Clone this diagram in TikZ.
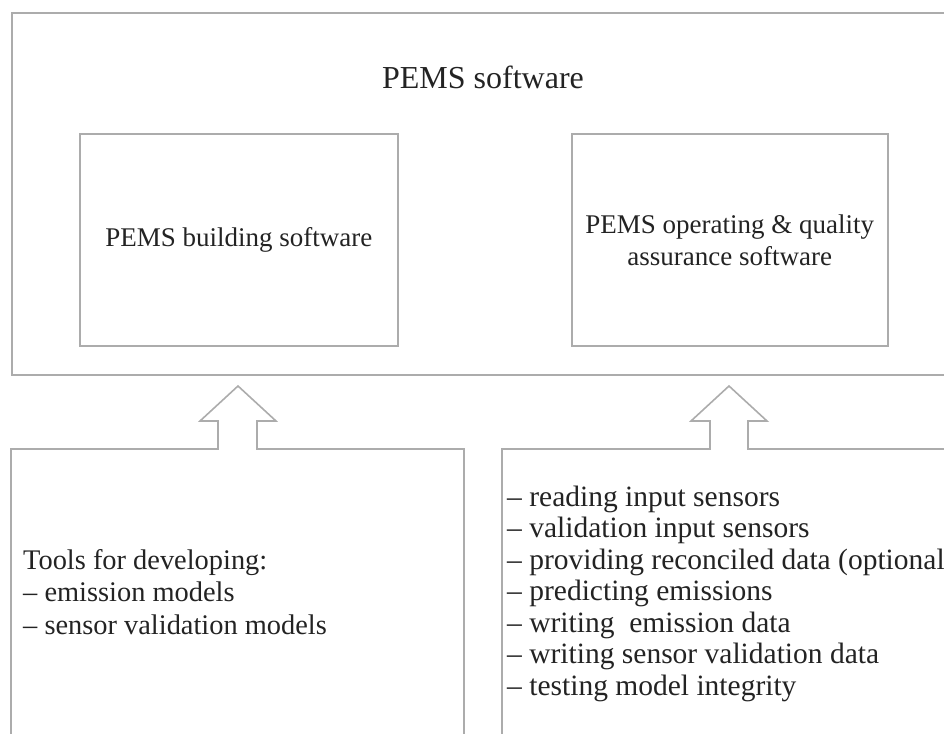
\documentclass[tikz,border=0pt]{standalone}
\usepackage{fontspec}
\setmainfont{Liberation Serif}
\definecolor{boxgray}{RGB}{172,172,172}
\definecolor{txtcol}{RGB}{35,35,35}
\begin{document}
\begin{tikzpicture}[x=1pt,y=-1pt,
  boxline/.style={draw=boxgray, line width=1.6pt, line join=miter},
  plainbox/.style={boxline, rectangle, inner sep=0pt, anchor=north west},
  bodytext/.style={text=txtcol, inner sep=0pt, font=\fontsize{27}{32}\selectfont},
  listtext/.style={text=txtcol, inner sep=0pt, anchor=base west, align=left}]
\useasboundingbox (0,0) rectangle (944,733);
\clip (0,0) rectangle (944,733);
% outer box
\node[plainbox, minimum width=960pt, minimum height=362pt] (outer) at (11,12) {};
\node[text=txtcol, inner sep=0pt, font=\fontsize{32}{36}\selectfont, anchor=base] (title) at (483,89) {PEMS software};
% inner boxes
\node[plainbox, minimum width=318pt, minimum height=212pt] (build) at (79,133) {};
\node[bodytext, anchor=center] (buildtxt) at (build.center) {PEMS building software};
\node[plainbox, minimum width=316pt, minimum height=212pt] (oper) at (571,133) {};
\node[bodytext, anchor=center, align=center] (opertxt) at (oper.center) {PEMS operating \& quality\\assurance software};
% bottom-left box with block arrow
\coordinate (blA) at (11,760);
\coordinate (blB) at (11,449);
\coordinate (blTip) at (238,386);
\coordinate (blC) at (464,449);
\coordinate (blD) at (464,760);
\draw[boxline] (blA) -- (blB) -- (218,449) -- (218,421) -- (200,421) -- (blTip)
  -- (276,421) -- (257,421) -- (257,449) -- (blC) -- (blD);
% bottom-right box with block arrow
\coordinate (brA) at (502,760);
\coordinate (brB) at (502,449);
\coordinate (brTip) at (729,386);
\coordinate (brC) at (960,449);
\draw[boxline] (brA) -- (brB) -- (710,449) -- (710,421) -- (691,421) -- (brTip)
  -- (767,421) -- (748,421) -- (748,449) -- (brC);
% texts (base anchor = baseline of last line)
\node[listtext, font=\fontsize{28.4}{32.5}\selectfont] (tools) at (23,634) {Tools for developing:\\
  – emission models\\
  – sensor validation models};
\node[listtext, font=\fontsize{29.5}{31.5}\selectfont] (ops) at (507,695) {– reading input sensors\\
  – validation input sensors\\
  – providing reconciled data (optional)\\
  – predicting emissions\\
  – writing\ \ emission data\\
  – writing sensor validation data\\
  – testing model integrity};
\end{tikzpicture}
\end{document}
